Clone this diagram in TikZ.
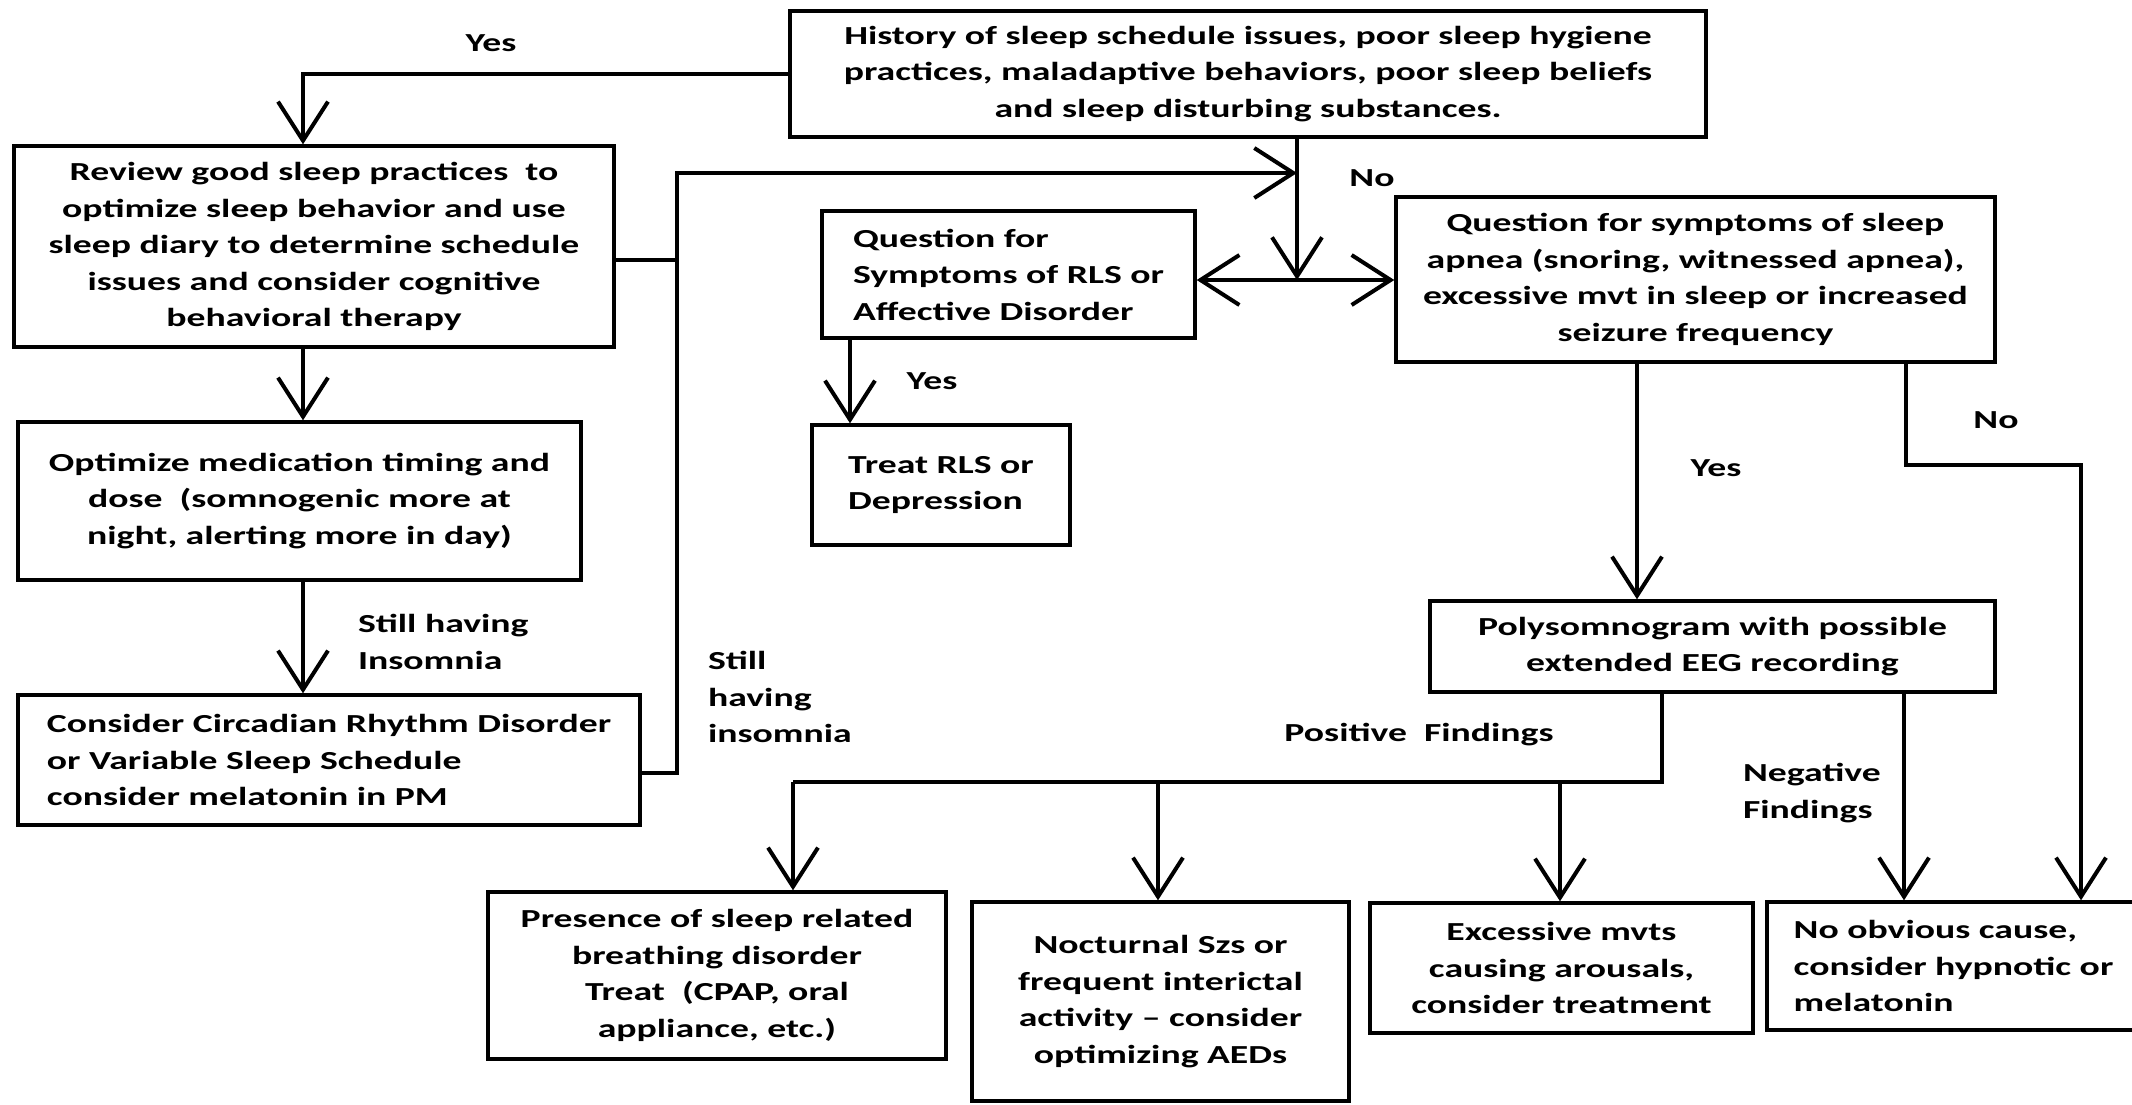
\documentclass[tikz,border=0pt]{standalone}
\usepackage{fontspec}
\setmainfont{Carlito}[FakeStretch=1.45]
\usetikzlibrary{arrows.meta}
\begin{document}
\begin{tikzpicture}[x=0.5pt,y=-0.5pt,
    every node/.style={font=\bfseries\fontsize{13}{18.25}\selectfont},
    box/.style 2 args={draw,line width=1.7pt,inner sep=0pt,align=center,minimum width=#1,minimum height=#2},
    lbox/.style 2 args={box={#1}{#2},align=left},
    line/.style={line width=2pt},
    arr/.style={line,-{Straight Barb[length=19.5pt,width=25pt]}}]
\useasboundingbox (0,0) rectangle (2132,1104);

\node[box={458pt}{63pt}] (H) at (1248,74) {History of sleep schedule issues, poor sleep hygiene\\practices, maladaptive behaviors, poor sleep beliefs\\and sleep disturbing substances.};
\node[box={300pt}{100.5pt}] (R) at (314,246.5) {Review good sleep practices\ \ to\\optimize sleep behavior and use\\sleep diary to determine schedule\\issues and consider cognitive\\behavioral therapy};
\node[box={281.5pt}{79pt}] (M) at (299.5,501) {Optimize medication timing and\\dose\ \ (somnogenic more at\\night, alerting more in day)};
\node[lbox={311pt}{65pt}] (C) at (329,760) {Consider Circadian Rhythm Disorder\\or Variable Sleep Schedule\\consider melatonin in PM};
\node[lbox={186.5pt}{63.5pt}] (Q) at (1008.5,274.5) {Question for\\Symptoms of RLS or\\Affective Disorder};
\node[lbox={129pt}{60pt}] (T) at (941,485) {Treat RLS or\\Depression};
\node[box={299.5pt}{82.5pt}] (S) at (1695.5,279.5) {Question for symptoms of sleep\\apnea (snoring, witnessed apnea),\\excessive mvt in sleep or increased\\seizure frequency};
\node[box={282.5pt}{45.5pt}] (P) at (1712.5,646.5) {Polysomnogram with possible\\extended EEG recording};
\node[box={229pt}{83.5pt}] (B) at (717,975.5) {Presence of sleep related\\breathing disorder\\Treat\ \ (CPAP, oral\\appliance, etc.)};
\node[box={188.5pt}{99.5pt}] (N) at (1160.5,1001.5) {Nocturnal Szs or\\frequent interictal\\activity -- consider\\optimizing AEDs};
\node[box={191.5pt}{65pt}] (E) at (1561.5,968) {Excessive mvts\\causing arousals,\\consider treatment};
\node[lbox={186.5pt}{64pt}] (O) at (1953.5,966) {No obvious cause,\\consider hypnotic or\\melatonin};

% labels
\node (Y1) at (491,43) {Yes};
\node (N1) at (1372,178) {No};
\node (Y2) at (932,381) {Yes};
\node[anchor=west,align=left] (S1) at (351,642) {Still having\\Insomnia};
\node[anchor=west,align=left] (S2) at (701,697) {Still\\having\\insomnia};
\node (Y3) at (1716,468) {Yes};
\node (N2) at (1996,420) {No};
\node (PF) at (1419,735) {Positive\ \ Findings};
\node[anchor=west,align=left] (NF) at (1736,793) {Negative\\Findings};

\coordinate (L) at (303,0);
\coordinate (V) at (677,173);
\coordinate (V1) at (677,260);
\coordinate (V2) at (677,773);
\coordinate (J) at (1297,280);
\coordinate (K) at (850,0);
\coordinate (Y) at (1637,0);
\coordinate (U1) at (1906,465);
\coordinate (U2) at (2081,465);
\coordinate (F) at (1662,782);
\coordinate (F1) at (793,782);
\coordinate (F2) at (1158,782);
\coordinate (F3) at (1560,782);
\coordinate (G) at (1904,0);

\draw[arr] (H.west) -| (R.north -| L);
\draw[arr] (R.south -| L) -- (M.north -| L);
\draw[arr] (M.south -| L) -- (C.north -| L);
\draw[line] (R.east |- V1) -- (V1);
\draw[arr] (C.east |- V2) -- (V2) -- (V) -- (V -| J);
\draw[arr] (H.south -| J) -- (J);
\draw[arr] (J) -- (Q.east |- J);
\draw[arr] (J) -- (S.west |- J);
\draw[arr] (Q.south -| K) -- (T.north -| K);
\draw[arr] (S.south -| Y) -- (P.north -| Y);
\draw[arr] (S.south -| U1) -- (U1) -- (U2) -- (O.north -| U2);
\draw[line] (P.south -| F) -- (F) -- (F1);
\draw[arr] (F1) -- (B.north -| F1);
\draw[arr] (F2) -- (N.north -| F2);
\draw[arr] (F3) -- (E.north -| F3);
\draw[arr] (P.south -| G) -- (O.north -| G);
\end{tikzpicture}
\end{document}
